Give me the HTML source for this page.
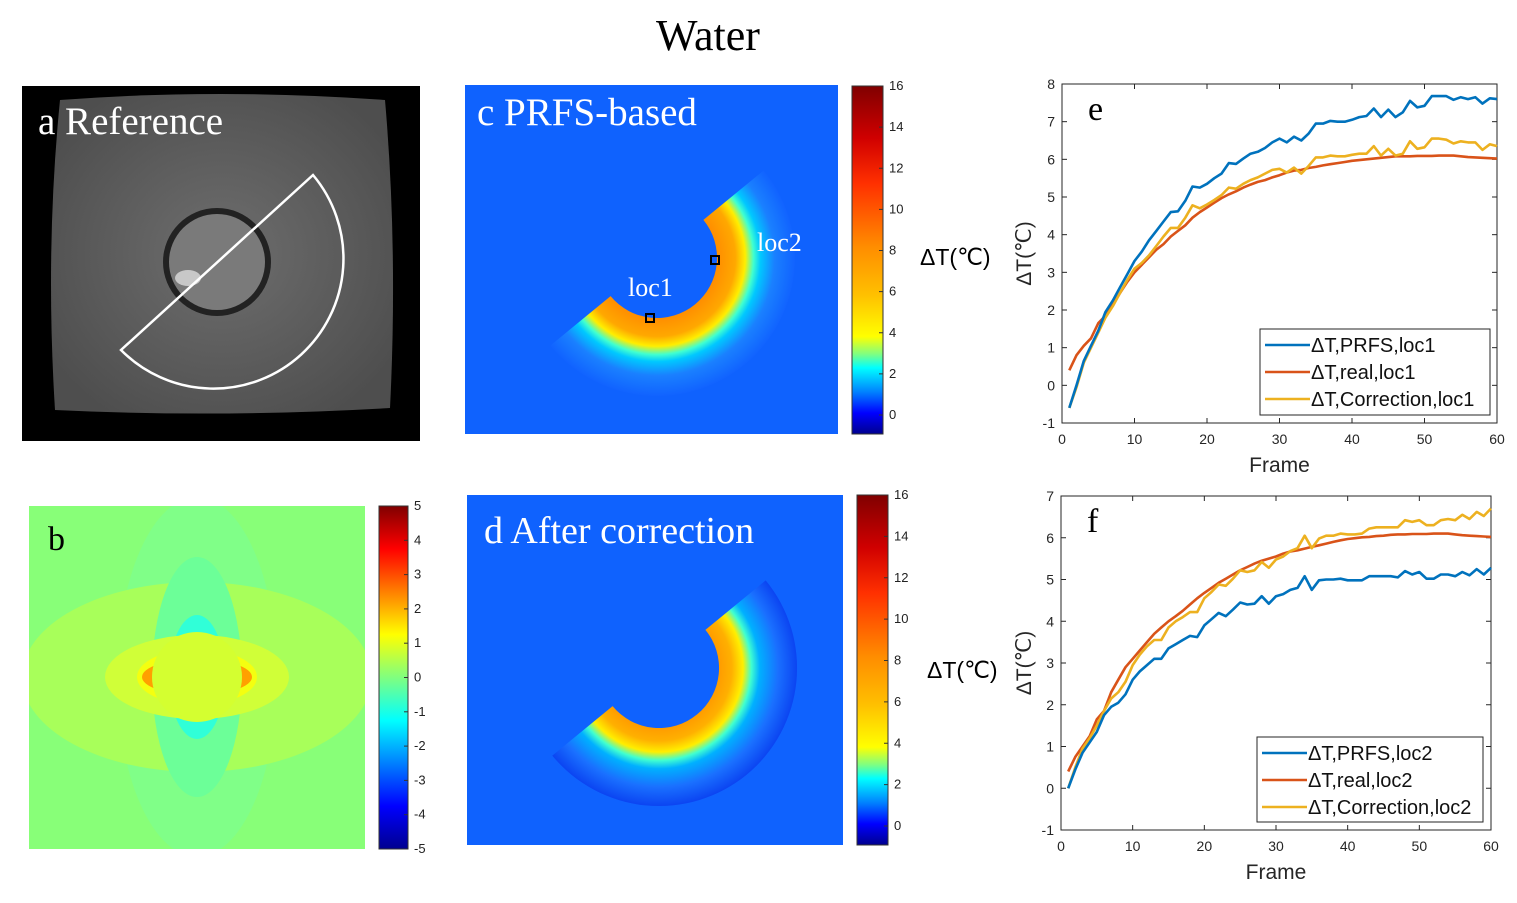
<!DOCTYPE html>
<html><head><meta charset="utf-8"><style>
body{margin:0;background:#fff;width:1517px;height:903px;overflow:hidden}
svg{display:block}
.serif{font-family:"Liberation Serif",serif}
.sans{font-family:"Liberation Sans",sans-serif}
</style></head><body>
<svg id="fig" width="1517" height="903" viewBox="0 0 1517 903">
<defs>
<linearGradient id="jet" x1="0" y1="1" x2="0" y2="0">
<stop offset="0" stop-color="#00008f"/><stop offset="0.06" stop-color="#0000ff"/><stop offset="0.12" stop-color="#0080ff"/><stop offset="0.19" stop-color="#00ffff"/><stop offset="0.23" stop-color="#80ff80"/><stop offset="0.28" stop-color="#ffff00"/><stop offset="0.4" stop-color="#ffc000"/><stop offset="0.54" stop-color="#ff8c00"/><stop offset="0.72" stop-color="#ff3000"/><stop offset="0.85" stop-color="#d00000"/><stop offset="1" stop-color="#800000"/>
</linearGradient>
<linearGradient id="jetb" x1="0" y1="1" x2="0" y2="0">
<stop offset="0" stop-color="#00008f"/><stop offset="0.125" stop-color="#0000ff"/><stop offset="0.375" stop-color="#00ffff"/><stop offset="0.625" stop-color="#ffff00"/><stop offset="0.875" stop-color="#ff0000"/><stop offset="1" stop-color="#800000"/>
</linearGradient>
<radialGradient id="heatC" gradientUnits="userSpaceOnUse" cx="657" cy="258" r="140">
<stop offset="0.42" stop-color="#ff8c00"/><stop offset="0.56" stop-color="#ffa800"/><stop offset="0.63" stop-color="#ffee00"/><stop offset="0.69" stop-color="#40ffd0"/><stop offset="0.74" stop-color="#00c8ff"/><stop offset="0.84" stop-color="#1a80ff"/><stop offset="1" stop-color="#1060ff"/>
</radialGradient>
<radialGradient id="heatD" gradientUnits="userSpaceOnUse" cx="659" cy="668" r="140">
<stop offset="0.42" stop-color="#ff9a00"/><stop offset="0.52" stop-color="#ffb000"/><stop offset="0.6" stop-color="#ffee00"/><stop offset="0.66" stop-color="#40ffd0"/><stop offset="0.72" stop-color="#00b0ff"/><stop offset="0.85" stop-color="#1a70ff"/><stop offset="1" stop-color="#0a40f0"/>
</radialGradient>
<radialGradient id="gray" cx="0.5" cy="0.5" r="0.6">
<stop offset="0" stop-color="#6e6e6e"/><stop offset="1" stop-color="#4e4e4e"/>
</radialGradient>
<clipPath id="clipB"><rect x="29" y="506" width="336" height="343"/></clipPath>
</defs>

<text x="708" y="50" text-anchor="middle" class="serif" font-size="44">Water</text>

<!-- Panel a -->
<g>
<rect x="22" y="86" width="398" height="355" fill="#000"/>
<path d="M60,100 Q220,88 385,100 Q398,250 390,408 Q220,418 55,410 Q45,250 60,100 Z" fill="url(#gray)"/>
<circle cx="217" cy="262" r="54" fill="#222"/>
<circle cx="217" cy="262" r="48" fill="#7a7a7a"/>
<ellipse cx="188" cy="278" rx="13" ry="8" fill="#c8c8c8"/>
<path d="M313,175 A130,130 0 0 1 121,350 Z" fill="none" stroke="#fff" stroke-width="2.5"/>
<text x="38" y="134" class="serif" font-size="39" fill="#fff">a Reference</text>
</g>

<!-- Panel c -->
<g>
<rect x="465" y="85" width="373" height="349" fill="#0f62fe"/>
<path d="M763.7,170.4 A138,138 0 0 1 550.3,345.6 L610.6,296.1 A60,60 0 0 0 703.4,219.9 Z" fill="url(#heatC)"/>
<rect x="646" y="314" width="8" height="8" fill="none" stroke="#000" stroke-width="2"/>
<rect x="711" y="256" width="8" height="8" fill="none" stroke="#000" stroke-width="2"/>
<text x="477" y="125" class="serif" font-size="39" fill="#fff">c PRFS-based</text>
<text x="628" y="296" class="serif" font-size="26" fill="#fff">loc1</text>
<text x="757" y="251" class="serif" font-size="26" fill="#fff">loc2</text>
<rect x="852" y="86" width="31" height="348" fill="url(#jet)" stroke="#333"/>
<g class="sans" font-size="13" fill="#222" id="cbC"></g>
<text x="920" y="265" class="sans" font-size="23">ΔT(℃)</text>
</g>

<!-- Panel b -->
<g>
<rect x="29" y="506" width="336" height="343" fill="#88ff78"/>
<g clip-path="url(#clipB)">
<ellipse cx="197" cy="677" rx="80" ry="180" fill="#80ff88"/>
<ellipse cx="197" cy="677" rx="175" ry="95" fill="#a8ff5a"/>
<ellipse cx="197" cy="677" rx="45" ry="120" fill="#6cff98"/>
<ellipse cx="197" cy="677" rx="28" ry="62" fill="#30ffd8"/>
<ellipse cx="197" cy="677" rx="92" ry="42" fill="#d0ff38"/>
<ellipse cx="197" cy="677" rx="60" ry="28" fill="#f4ff10"/>
<ellipse cx="197" cy="677" rx="55" ry="18" fill="#ffa000"/>
<circle cx="197" cy="677" r="45" fill="#d4ff30"/>
</g>
<text x="48" y="550" class="serif" font-size="34">b</text>
<rect x="379" y="506" width="29" height="343" fill="url(#jetb)" stroke="#333"/>
<g class="sans" font-size="13" fill="#222" id="cbB"></g>
</g>

<!-- Panel d -->
<g>
<rect x="467" y="495" width="376" height="350" fill="#0f62fe"/>
<path d="M765.7,580.4 A138,138 0 0 1 552.3,755.6 L612.6,706.1 A60,60 0 0 0 705.4,629.9 Z" fill="url(#heatD)"/>
<text x="484" y="543" class="serif" font-size="38" fill="#fff">d After correction</text>
<rect x="857" y="495" width="31" height="350" fill="url(#jet)" stroke="#333"/>
<g class="sans" font-size="13" fill="#222" id="cbD"></g>
<text x="927" y="678" class="sans" font-size="23">ΔT(℃)</text>
</g>

<g id="chartE"></g>
<g id="chartF"></g>
</svg>
<script>
const frames = Array.from({length:60},(_,i)=>i+1);
const xTicks = [0,10,20,30,40,50,60];
const yTicksE = [-1,0,1,2,3,4,5,6,7,8];
const yTicksF = [-1,0,1,2,3,4,5,6,7];
const ePrfs = [-0.6,0.0,0.65,1.05,1.45,1.95,2.25,2.6,2.95,3.3,3.55,3.85,4.1,4.35,4.6,4.62,4.9,5.28,5.25,5.35,5.5,5.62,5.9,5.88,6.02,6.15,6.2,6.3,6.45,6.55,6.45,6.6,6.5,6.68,6.95,6.95,7.02,7.0,7.0,7.05,7.12,7.15,7.35,7.12,7.32,7.12,7.25,7.55,7.38,7.42,7.68,7.68,7.68,7.58,7.65,7.6,7.65,7.48,7.62,7.6];
const eReal = [0.4,0.8,1.05,1.25,1.65,1.85,2.15,2.45,2.75,3.0,3.2,3.4,3.6,3.75,3.95,4.1,4.25,4.45,4.6,4.72,4.85,4.97,5.07,5.15,5.25,5.33,5.4,5.45,5.52,5.58,5.65,5.7,5.72,5.77,5.8,5.84,5.87,5.9,5.93,5.96,5.98,6.0,6.02,6.04,6.06,6.08,6.08,6.08,6.09,6.09,6.09,6.1,6.1,6.1,6.08,6.06,6.05,6.04,6.03,6.02];
const eCorr = [-0.6,-0.05,0.6,1.0,1.4,1.8,2.1,2.45,2.8,3.1,3.25,3.45,3.7,3.95,4.18,4.18,4.45,4.78,4.7,4.8,4.92,5.05,5.25,5.22,5.35,5.45,5.52,5.62,5.72,5.75,5.65,5.78,5.62,5.82,6.05,6.05,6.1,6.08,6.08,6.12,6.15,6.15,6.35,6.1,6.28,6.1,6.15,6.48,6.28,6.32,6.55,6.55,6.52,6.42,6.48,6.45,6.45,6.25,6.4,6.35];
const fPrfs = [0.0,0.45,0.85,1.1,1.35,1.75,1.95,2.05,2.25,2.6,2.8,2.95,3.1,3.1,3.35,3.45,3.55,3.65,3.62,3.9,4.05,4.2,4.12,4.28,4.45,4.4,4.42,4.6,4.42,4.6,4.65,4.75,4.8,5.08,4.75,4.98,5.0,5.0,5.02,4.98,4.98,4.98,5.08,5.08,5.08,5.08,5.05,5.2,5.12,5.18,5.02,5.02,5.12,5.12,5.08,5.18,5.1,5.25,5.12,5.28];
const fReal = [0.4,0.75,1.0,1.25,1.65,1.85,2.3,2.6,2.9,3.1,3.3,3.5,3.7,3.85,4.0,4.12,4.25,4.4,4.55,4.68,4.8,4.92,5.02,5.12,5.22,5.3,5.38,5.45,5.5,5.55,5.62,5.67,5.7,5.74,5.78,5.82,5.86,5.9,5.94,5.97,5.99,6.01,6.02,6.04,6.05,6.07,6.08,6.08,6.09,6.09,6.09,6.1,6.1,6.1,6.08,6.06,6.05,6.04,6.03,6.02];
const fCorr = [0.0,0.5,0.95,1.2,1.5,1.85,2.15,2.3,2.55,2.95,3.2,3.4,3.55,3.55,3.85,4.0,4.1,4.22,4.22,4.55,4.7,4.88,4.85,5.02,5.22,5.18,5.22,5.42,5.28,5.48,5.55,5.68,5.75,6.05,5.75,5.98,6.05,6.05,6.1,6.08,6.08,6.1,6.22,6.25,6.25,6.25,6.25,6.42,6.38,6.42,6.3,6.3,6.42,6.45,6.42,6.55,6.45,6.62,6.52,6.7];
const cbTicksC = [0,2,4,6,8,10,12,14,16];
const cbTicksB = [-5,-4,-3,-2,-1,0,1,2,3,4,5];
const NS='http://www.w3.org/2000/svg';
function mk(p,tag,attrs,txt){const e=document.createElementNS(NS,tag);for(const k in attrs)e.setAttribute(k,attrs[k]);if(txt!==undefined)e.textContent=txt;p.appendChild(e);return e;}

function colorbar(id,ticks,x,y0v,y1v,ytop,ybot){
  const g=document.getElementById(id);
  ticks.forEach(t=>{
    const y=ybot-(t-y0v)/(y1v-y0v)*(ybot-ytop);
    const l=mk(g,'line',{x1:x-4,x2:x,y1:y,y2:y,stroke:'#333'});
    
    
    const tx=mk(g,'text',{x:x+6,y:y+4},String(t));
    
    
  });
}
colorbar('cbC',cbTicksC,883,0,16,86,415);
colorbar('cbD',cbTicksC,888,0,16,495,826);
colorbar('cbB',cbTicksB,408,-5,5,506,849);

function chart(id,L,R,T,B,ymin,ymax,yTicks,series,names,letter,legBox){
  const g=document.getElementById(id);
  const sx=v=>L+v/60*(R-L);
  const sy=v=>B-(v-ymin)/(ymax-ymin)*(B-T);
  const box=mk(g,'rect',{x:L,y:T,width:R-L,height:B-T,fill:'#fff',stroke:'#262626','stroke-width':1});
  
  
  xTicks.forEach(t=>{
    const x=sx(t);
    mk(g,'line',{x1:x,x2:x,y1:B,y2:B-5,stroke:'#262626'});
    mk(g,'line',{x1:x,x2:x,y1:T,y2:T+5,stroke:'#262626'});
    const tx=mk(g,'text',{x:x,y:B+21,'text-anchor':'middle','font-size':14,'font-family':'Liberation Sans, sans-serif',fill:'#262626'},String(t));
    
    
  });
  yTicks.forEach(t=>{
    const y=sy(t);
    mk(g,'line',{x1:L,x2:L+5,y1:y,y2:y,stroke:'#262626'});
    mk(g,'line',{x1:R,x2:R-5,y1:y,y2:y,stroke:'#262626'});
    const tx=mk(g,'text',{x:L-7,y:y+5,'text-anchor':'end','font-size':14,'font-family':'Liberation Sans, sans-serif',fill:'#262626'},String(t));
    
    
  });
  const cols=['#0072BD','#D95319','#EDB120'];
  const order=[1,2,0];
  order.forEach(i=>{
    const d=series[i].map((v,k)=>(k?'L':'M')+sx(frames[k]).toFixed(1)+','+sy(v).toFixed(1)).join('');
    const p=mk(g,'path',{d:d,fill:'none',stroke:cols[i],'stroke-width':2.6,'stroke-linejoin':'round'});
    
    
  });
  const t1=mk(g,'text',{x:(L+R)/2,y:B+49,'text-anchor':'middle','font-size':21,'font-family':'Liberation Sans, sans-serif',fill:'#262626'},'Frame');
  
  
  const cy=(T+B)/2;
  const t2=mk(g,'text',{x:1031,y:cy,'text-anchor':'middle','font-size':21,'font-family':'Liberation Sans, sans-serif',fill:'#262626',transform:'rotate(-90 1031 '+cy+')'},'ΔT(℃)');
  
  
  const t3=mk(g,'text',{x:L+26,y:T+36,'font-size':34,'font-family':'Liberation Serif, serif'},letter);
  
  
  const [bx,by,bw,bh]=legBox;
  const lg=mk(g,'g',{});
  
  
  mk(lg,'rect',{x:bx,y:by,width:bw,height:bh,fill:'#fff',stroke:'#262626'});
  names.forEach((n,i)=>{
    const yy=by+16+i*27;
    mk(lg,'line',{x1:bx+5,x2:bx+50,y1:yy,y2:yy,stroke:cols[i],'stroke-width':2.6});
    const tx=mk(lg,'text',{x:bx+51,y:yy+7,'font-size':20,'font-family':'Liberation Sans, sans-serif',fill:'#111'},n);
    
    
  });
}
chart('chartE',1062,1497,84,423,-1,8,yTicksE,[ePrfs,eReal,eCorr],['ΔT,PRFS,loc1','ΔT,real,loc1','ΔT,Correction,loc1'],'e',[1260,329,230,86]);
chart('chartF',1061,1491,496,830,-1,7,yTicksF,[fPrfs,fReal,fCorr],['ΔT,PRFS,loc2','ΔT,real,loc2','ΔT,Correction,loc2'],'f',[1257,737,226,85]);
</script>
</body></html>
